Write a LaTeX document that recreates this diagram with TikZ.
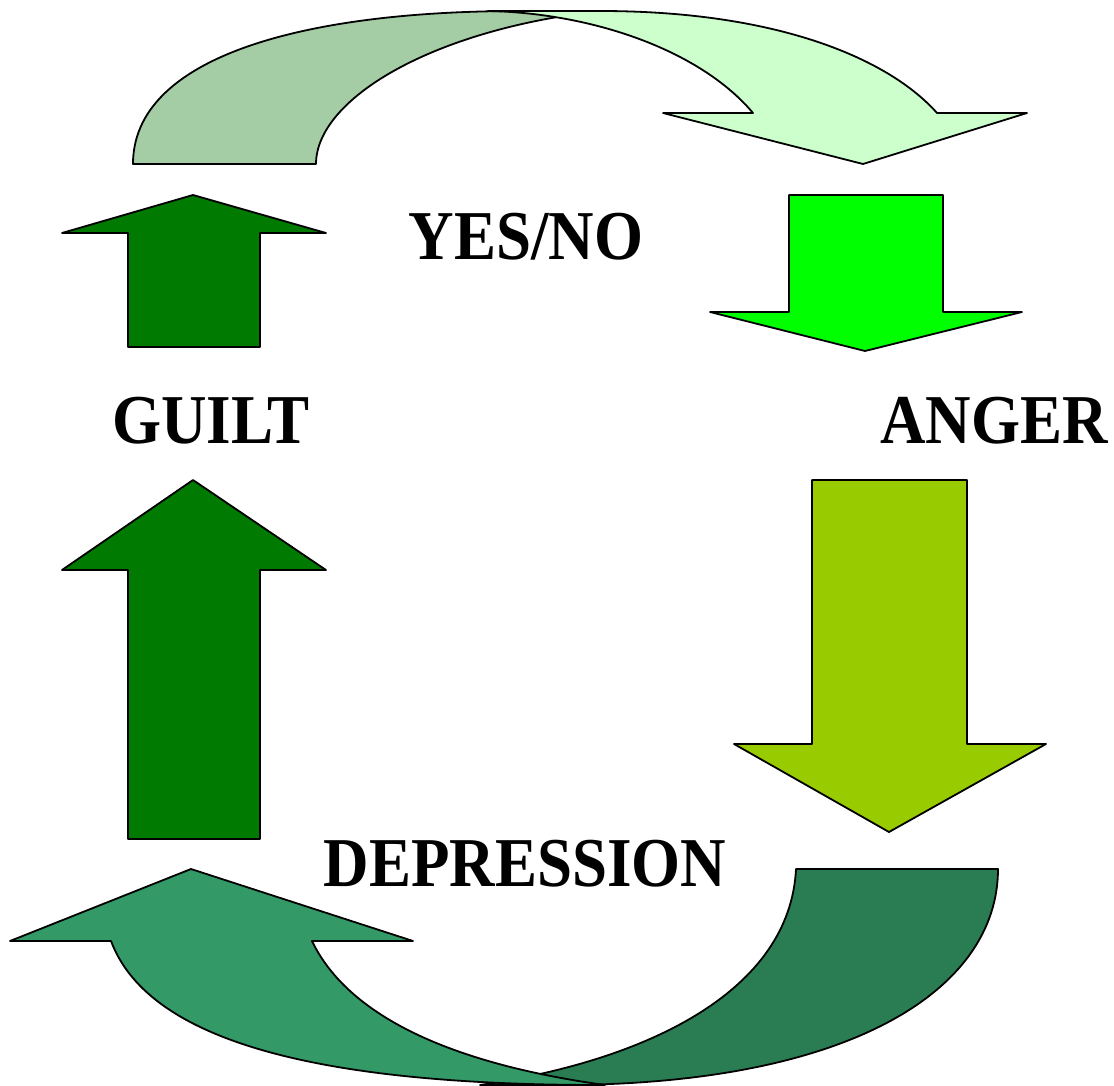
\documentclass[tikz,border=0pt]{standalone}
\usepackage{fontspec}
\setmainfont{Liberation Serif}
\definecolor{topdark}{HTML}{A5CDA5}
\definecolor{toplight}{HTML}{CCFFCC}
\definecolor{botgreen}{HTML}{339966}
\definecolor{botdark}{HTML}{2A7D53}
\definecolor{guiltgreen}{HTML}{007A00}
\definecolor{brightgreen}{HTML}{00FF00}
\definecolor{olivegreen}{HTML}{99CC00}
\begin{document}
\begin{tikzpicture}[x=1pt,y=-1pt,
  shapeline/.style={draw=black,line width=1.8pt,line join=round},
  label/.style={font=\fontsize{70}{70}\selectfont\bfseries,xscale=0.9,anchor=base,inner sep=0pt}]
\useasboundingbox (0,0) rectangle (1114,1086);
\fill[white] (0,0) rectangle (1114,1086);

% top curved arrow: back part
\draw[shapeline,fill=topdark] (133,164) .. controls (133,58) and (300,11) .. (520,11)
  -- (600,11) .. controls (430,30) and (316,100) .. (316,164) -- cycle;
% top curved arrow: front part with head
\draw[shapeline,fill=toplight] (488,11) -- (600,11)
  .. controls (780,11) and (890,60) .. (937,113)
  -- (1027,113) -- (863,164) -- (663,113) -- (753,113)
  .. controls (700,50) and (592,13) .. (488,11) -- cycle;

% guilt arrows (up)
\draw[shapeline,fill=guiltgreen] (128,347) -- (128,233) -- (62,233) -- (193,195) -- (326,233) -- (260,233) -- (260,347) -- cycle;
\draw[shapeline,fill=guiltgreen] (128,839) -- (128,570) -- (62,570) -- (193,480) -- (326,570) -- (260,570) -- (260,839) -- cycle;

% anger arrows (down)
\draw[shapeline,fill=brightgreen] (789,195) -- (943,195) -- (943,312) -- (1022,312) -- (865,351) -- (710,312) -- (789,312) -- cycle;
\draw[shapeline,fill=olivegreen] (812,480) -- (967,480) -- (967,744) -- (1046,744) -- (889,832) -- (734,744) -- (812,744) -- cycle;

% bottom curved arrow: back part
\draw[shapeline,fill=botdark] (796,869) -- (998,869)
  .. controls (998,990) and (850,1085) .. (560,1085) -- (480,1085)
  .. controls (650,1060) and (790,990) .. (796,869) -- cycle;
% bottom curved arrow: front part with head
\draw[shapeline,fill=botgreen] (111,941) -- (10,941) -- (191,869) -- (413,941) -- (312,941)
  .. controls (350,1020) and (460,1065) .. (605,1085)
  -- (600,1085) .. controls (330,1085) and (150,1045) .. (111,941) -- cycle;

% labels
\node[label] (yesno) at (526,260) {YES/NO};
\node[label] (guilt) at (211,443) {GUILT};
\node[label] (anger) at (994,443) {ANGER};
\node[label] (depression) at (525,886) {DEPRESSION};
\end{tikzpicture}
\end{document}
